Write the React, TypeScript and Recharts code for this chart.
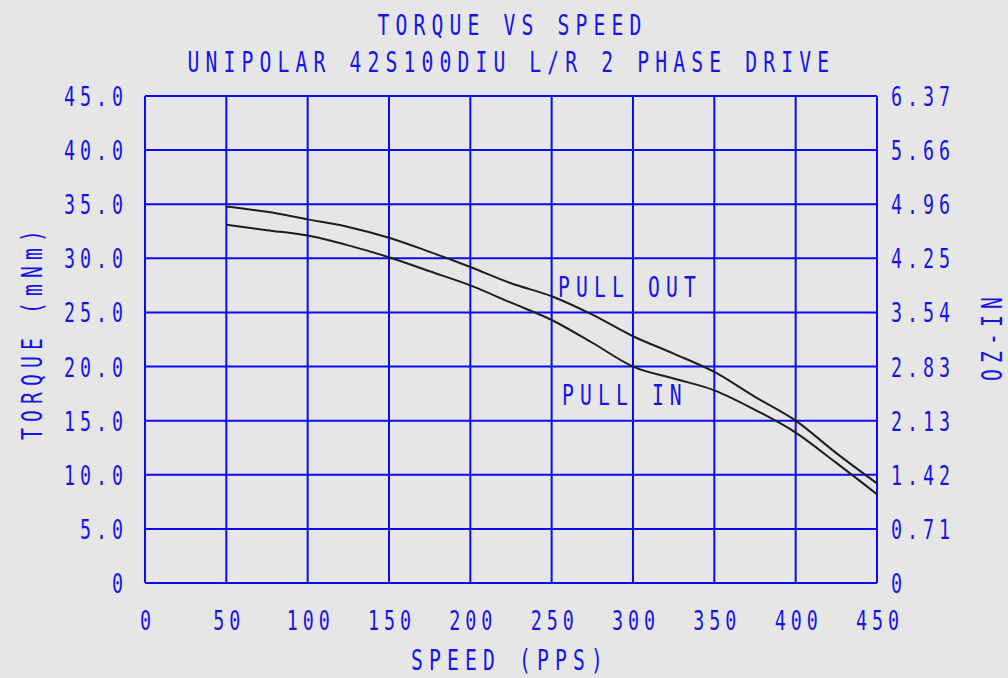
import React from 'react';
import { LineChart, Line, XAxis, YAxis, CartesianGrid, ReferenceDot } from 'recharts';

const speeds = [50, 75, 100, 125, 150, 175, 200, 225, 250, 275, 300, 325, 350, 375, 400, 425, 450];
const pullOut = [34.8, 34.3, 33.6, 32.9, 31.9, 30.6, 29.2, 27.7, 26.5, 24.8, 22.8, 21.2, 19.5, 17.2, 15.0, 12.0, 9.2];
const pullIn = [33.1, 32.6, 32.1, 31.2, 30.1, 28.8, 27.5, 25.9, 24.3, 22.2, 20.0, 18.9, 17.8, 16.0, 13.9, 11.1, 8.2];

const speedTicks = [0, 50, 100, 150, 200, 250, 300, 350, 400, 450];
const speedLabels = ['0', '50', '100', '150', '200', '250', '300', '350', '400', '450'];
const torqueTicks = [0, 5, 10, 15, 20, 25, 30, 35, 40, 45];
const torqueLabels = ['0', '5.0', '10.0', '15.0', '20.0', '25.0', '30.0', '35.0', '40.0', '45.0'];
const ozInLabels = ['0', '0.71', '1.42', '2.13', '2.83', '3.54', '4.25', '4.96', '5.66', '6.37'];

const title1 = 'TORQUE VS SPEED';
const title2 = 'UNIPOLAR 42S100DIU L/R 2 PHASE DRIVE';
const xTitle = 'SPEED (PPS)';
const yTitle = 'TORQUE (mNm)';
const y2Title = 'OZ-IN';

const rows = speeds.map((s, i) => ({ speed: s, pullOut: pullOut[i], pullIn: pullIn[i] }));

const BLUE = '#1414e8';
const GRID = '#0a0af5';
const BG = '#e6e6e6';
const FONT = 'DejaVu Sans Mono';
const SX = 0.68;
const INK = 10;

type TProps = { x: number; y: number; text: string; fs?: number; adv?: number; rotate?: number };
const T = ({ x, y, text, fs = 27, adv = 16, rotate = 0 }: TProps) => {
  const ls = adv / SX - 0.602 * fs;
  return (
    <text
      transform={`translate(${x},${y}) rotate(${rotate}) scale(${SX},1)`}
      fontFamily={FONT}
      fontSize={fs}
      letterSpacing={ls}
      fill={BLUE}
      textAnchor="start"
    >
      {text}
    </text>
  );
};
const textWidth = (n: number, adv: number) => (n - 1) * adv + INK;

const XTick = (props: any) => {
  const label = speedLabels[props.index] ?? String(props.payload.value);
  const w = textWidth(label.length, 16);
  return <T x={props.x - w / 2} y={630} text={label} />;
};
const LTick = (props: any) => {
  const label = torqueLabels[props.index] ?? String(props.payload.value);
  const right = ozInLabels[props.index] ?? '';
  const w = textWidth(label.length, 16);
  return (
    <g>
      <T x={122 - w} y={props.y + 10} text={label} />
      <T x={891} y={props.y + 10} text={right} />
    </g>
  );
};

const LabelShape = (text: string) => (props: any) => <T x={props.cx} y={props.cy} text={text} fs={29} adv={18} />;

export default function App() {
  const t1w = textWidth(title1.length, 18);
  const t2w = textWidth(title2.length, 18);
  const xw = textWidth(xTitle.length, 18);
  const yw = textWidth(yTitle.length, 18);
  const y2w = textWidth(y2Title.length, 18);
  return (
    <div style={{ position: 'relative', width: 1008, height: 678, background: BG }}>
      <style>{`body{margin:0;background:${BG};}`}</style>
      <LineChart
        width={1008}
        height={678}
        data={rows}
        margin={{ top: 96, right: 131, bottom: 0, left: 0 }}
        style={{ background: BG }}
      >
        <CartesianGrid stroke={GRID} strokeWidth={2} />
        <XAxis
          dataKey="speed"
          type="number"
          domain={[0, 450]}
          ticks={speedTicks}
          interval={0}
          height={95}
          axisLine={false}
          tickLine={false}
          tick={XTick}
        />
        <YAxis
          type="number"
          domain={[0, 45]}
          ticks={torqueTicks}
          interval={0}
          width={145}
          axisLine={false}
          tickLine={false}
          tick={LTick}
        />
        <Line
          dataKey="pullOut"
          type="monotone"
          stroke="#1e1e1e"
          strokeWidth={2}
          dot={false}
          isAnimationActive={false}
        />
        <Line
          dataKey="pullIn"
          type="monotone"
          stroke="#1e1e1e"
          strokeWidth={2}
          dot={false}
          isAnimationActive={false}
        />
        <ReferenceDot x={253.9} y={26.4} r={0} shape={LabelShape('PULL OUT')} />
        <ReferenceDot x={256.3} y={16.45} r={0} shape={LabelShape('PULL IN')} />
      </LineChart>
      <svg
        width={1008}
        height={678}
        style={{ position: 'absolute', left: 0, top: 0, pointerEvents: 'none' }}
      >
        <T x={508.5 - t1w / 2} y={35} text={title1} fs={29} adv={18} />
        <T x={507.5 - t2w / 2} y={72} text={title2} fs={29} adv={18} />
        <T x={506 - xw / 2} y={670} text={xTitle} fs={29} adv={18} />
        <T x={42} y={336 + yw / 2} text={yTitle} fs={29} adv={18} rotate={-90} />
        <T x={1002} y={340 + y2w / 2} text={y2Title} fs={29} adv={18} rotate={-90} />
      </svg>
    </div>
  );
}
